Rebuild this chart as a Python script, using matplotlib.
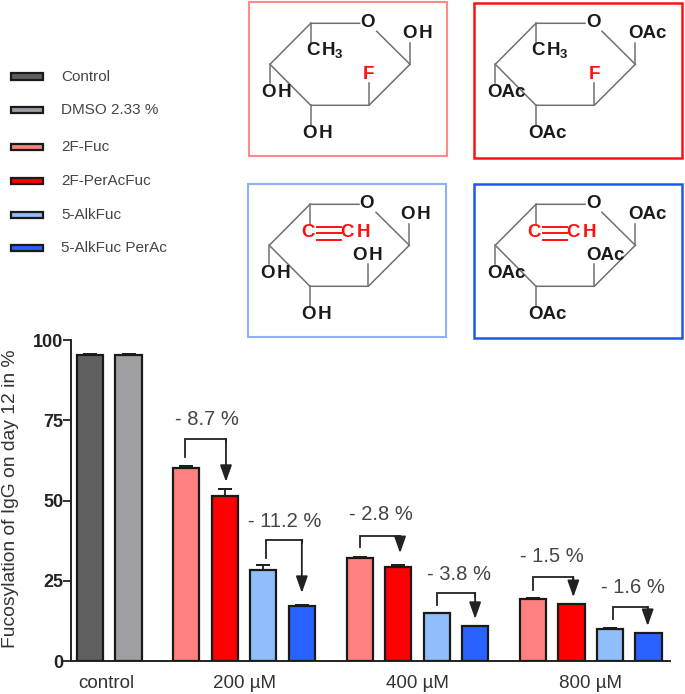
import numpy as np
import matplotlib
matplotlib.use('Agg')
import matplotlib.pyplot as plt

plt.rcParams['font.family'] = ['Liberation Sans', 'DejaVu Sans']
plt.rcParams['mathtext.fontset'] = 'custom'
plt.rcParams['mathtext.bf'] = 'Liberation Sans:bold'

# bar data
x_pos = [0, 1, 2.5, 3.5, 4.5, 5.5, 7, 8, 9, 10, 11.5, 12.5, 13.5, 14.5]
values = [95.2, 95.2, 60.2, 51.5, 28.3, 17.2, 32.2, 29.3, 14.8, 11.0, 19.3, 17.9, 10.0, 8.6]
errors = [0.3, 0.3, 0.5, 2.0, 1.7, 0.4, 0.3, 0.6, 0.3, 0.0, 0.4, 0.0, 0.3, 0.0]
colors = ['#5f5f5f', '#9f9fa3'] + ['#ff8080', '#ff0000', '#8fbefa', '#2a62ff'] * 3

group_pos = [0.41, 4, 8.5, 13]
group_labels = ['control', '200 µM', '400 µM', '800 µM']
y_ticks = [0, 25, 50, 75, 100]

# difference brackets: left x, right x, start, top, arrow tip, label
br_left = [2.47, 4.57, 7, 9, 11.5, 13.58]
br_right = [3.53, 5.5, 8.05, 10, 12.55, 14.48]
br_start = [63.6, 32.1, 35.5, 17.4, 22.1, 13.1]
br_top = [69.2, 37.7, 38.9, 21.2, 26.2, 16.8]
br_tip = [55.8, 21.2, 33.6, 13.1, 19.9, 10.9]
br_text = ['- 8.7 %', '- 11.2 %', '- 2.8 %', '- 3.8 %', '- 1.5 %', '- 1.6 %']
br_text_x = [3.04, 5.06, 7.56, 9.58, 12.0, 14.1]
br_text_y = [75.1, 43.6, 45.5, 27.1, 32.7, 23.0]

# legend
leg_names = ['Control', 'DMSO 2.33 %', '2F-Fuc', '2F-PerAcFuc', '5-AlkFuc', '5-AlkFuc PerAc']
leg_colors = ['#5f5f5f', '#9f9fa3', '#ff8080', '#ff0000', '#8fbefa', '#2a62ff']
leg_y = [76.7, 110, 147, 181, 215, 248]

W, H = 685, 694
fig = plt.figure(figsize=(W / 100, H / 100), dpi=100)

# bar chart, placed by pixels
ax = fig.add_axes([71 / W, 1 - 661 / H, (670 - 71) / W, (661 - 340) / H])
ax.bar(x_pos, values, width=0.68, color=colors, edgecolor='#1a1a1a', linewidth=1.6, zorder=3)
for x, v, e in zip(x_pos, values, errors):
    ax.errorbar(x, v, yerr=[[0], [e]], color='#1a1a1a', capsize=5, elinewidth=1.3,
                capthick=1.4, zorder=2)
ax.set_xlim(-0.494, 15.06)
ax.set_ylim(0, 100)
ax.set_yticks(y_ticks)
ax.set_yticklabels(y_ticks, fontsize=13, fontweight='bold', color='#222222')
ax.set_xticks(group_pos)
ax.set_xticklabels(group_labels, fontsize=13.5, color='#333333')
ax.tick_params(axis='x', length=0, pad=10)
ax.tick_params(axis='y', length=5.5, width=1.3, pad=0, color='#222222')
ax.spines['top'].set_visible(False)
ax.spines['right'].set_visible(False)
ax.spines['left'].set_linewidth(1.4)
ax.spines['bottom'].set_linewidth(1.4)
ax.spines['left'].set_color('#222222')
ax.spines['bottom'].set_color('#222222')
ax.patch.set_alpha(0)
fig.text(11 / W, 1 - 499 / H, 'Fucosylation of IgG on day 12 in %', rotation=90,
         fontsize=13.9, color='#333333', ha='center', va='center')

for i in range(len(br_text)):
    ax.plot([br_left[i], br_left[i], br_right[i], br_right[i]],
            [br_start[i], br_top[i], br_top[i], br_top[i] - 1],
            color='#222222', lw=1.3, zorder=4, solid_joinstyle='miter')
    ax.annotate('', xy=(br_right[i], br_tip[i]), xytext=(br_right[i], br_top[i]),
                arrowprops=dict(arrowstyle='-|>,head_length=0.48,head_width=0.17', color='#222222',
                                lw=1.3, mutation_scale=21, shrinkA=0, shrinkB=0), zorder=4)
    ax.text(br_text_x[i], br_text_y[i], br_text[i], fontsize=14.5, color='#444444',
            ha='center', va='center')

# overlay in pixel coordinates for legend and structures
ov = fig.add_axes([0, 0, 1, 1])
ov.set_xlim(0, W)
ov.set_ylim(H, 0)
ov.axis('off')
ov.patch.set_alpha(0)

for name, col, y in zip(leg_names, leg_colors, leg_y):
    ov.add_patch(plt.Rectangle((11.5, y - 3.4), 32, 6.8, facecolor=col, edgecolor='#1a1a1a', lw=1.6))
    ov.text(61, y, name, fontsize=11, color='#444444', va='center', ha='left')


def label(x, y, s, color='#1a1a1a', size=13.5):
    ov.text(x, y, s, fontsize=size, fontweight='bold', color=color, ha='center', va='center')


def ring(x0, y0, box, box_color, box_lw, sub_down, labels):
    # box is x1, y1, x2, y2
    ov.add_patch(plt.Rectangle((box[0], box[1]), box[2] - box[0], box[3] - box[1],
                               fill=False, edgecolor=box_color, lw=box_lw))
    ring_x = np.array([49, 0, -40.7, 0, 58.3, 99.3])
    ring_y = np.array([0, 0, 41, 82, 82, 41])
    ov.plot(x0 + ring_x, y0 + ring_y, color='#707070', lw=1.1)
    ov.plot([x0 + 66, x0 + 99.3], [y0 + 8, y0 + 41], color='#707070', lw=1.1)
    # stubs to the substituents
    for sx, sy1, sy2 in [(99.3, 41, 20), (58.3, 82, 60), (-40.7, 41, 60), (0, 82, 102), (0, 0, sub_down)]:
        ov.plot([x0 + sx, x0 + sx], [y0 + sy1, y0 + sy2], color='#707070', lw=1.1)
    for lx, ly, s in labels:
        label(x0 + lx, y0 + ly, s)


OH = 'O\u200aH'
CH3 = 'C\u200aH$_{\\mathbf{3}}$'

ring(310.7, 23.3, (249.5, 2, 446.7, 156), '#ff8a8a', 1.5, 20,
     [(57, -1, 'O'), (106.7, 10, OH), (14, 28, CH3), (-34, 69, OH), (7, 110, OH)])
label(368.4, 74, 'F', color='#ff1010')

ring(536, 23.3, (474, 2.5, 681.7, 158), '#ff1010', 1.8, 20,
     [(58, -1, 'O'), (111, 10, 'OAc'), (14, 28, CH3), (-30, 69, 'OAc'), (11, 110, 'OAc')])
label(594, 74, 'F', color='#ff1010')

ring(310, 204.3, (248.5, 184, 446, 336.7), '#8fb0f5', 1.5, 20,
     [(56.7, -1, 'O'), (105.7, 10, OH), (57.7, 50.7, OH), (-34.3, 69, OH), (6.7, 110, OH)])

ring(536, 204.3, (474, 184, 682, 338), '#2058ee', 1.8, 20,
     [(58, -1, 'O'), (111, 10, 'OAc'), (69.7, 50.7, 'OAc'), (-30, 69, 'OAc'), (11, 110.5, 'OAc')])

# red alkyne group on the two lower rings
for x0 in [310, 536]:
    y0 = 204.3
    for gap in [22.5, 29, 36]:
        ov.plot([x0 + 7.5, x0 + 31], [y0 + gap, y0 + gap], color='#ff1010', lw=1.4)
    label(x0 - 1.5, y0 + 28.5, 'C', color='#ff1010')
    label(x0 + 37.5, y0 + 28.5, 'C', color='#ff1010')
    label(x0 + 53.5, y0 + 28.5, 'H', color='#ff1010')

fig.savefig('out.png', dpi=100)
